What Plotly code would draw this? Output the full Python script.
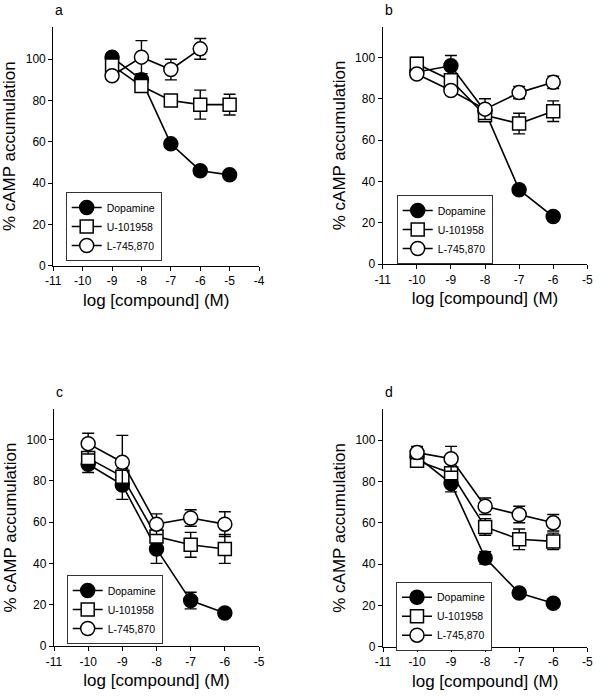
import plotly.graph_objects as go

# ---- data ----
series_names = ["Dopamine", "U-101958", "L-745,870"]

x_a = [-9, -8, -7, -6, -5]
x_a_l = [-9, -8, -7, -6]
dop_a = [101, 90, 59, 46, 44]
dop_a_err = [2, 3, 2, 2, 1]
u_a = [97, 87, 80, 78, 78]
u_a_err = [2, 3, 2, 7, 5]
l_a = [92, 101, 95, 105]
l_a_err = [2, 8, 5, 5]

x_b = [-10, -9, -8, -7, -6]
dop_b = [93, 96, 74, 36, 23]
dop_b_err = [2, 5, 3, 2, 2]
u_b = [97, 89, 72, 68, 74]
u_b_err = [3, 3, 2, 5, 5]
l_b = [92, 84, 75, 83, 88]
l_b_err = [2, 2, 5, 3, 3]

x_c = [-10, -9, -8, -7, -6]
dop_c = [88, 78, 47, 22, 16]
dop_c_err = [4, 7, 7, 4, 2]
u_c = [91, 82, 53, 49, 47]
u_c_err = [3, 4, 3, 6, 7]
l_c = [98, 89, 59, 62, 59]
l_c_err = [5, 13, 5, 4, 6]

x_d = [-10, -9, -8, -7, -6]
dop_d = [92, 79, 43, 26, 21]
dop_d_err = [2, 4, 3, 2, 2]
u_d = [90, 84, 58, 52, 51]
u_d_err = [2, 3, 4, 5, 4]
l_d = [94, 91, 68, 64, 60]
l_d_err = [3, 6, 4, 4, 4]

x_ticks_a = [-11, -10, -9, -8, -7, -6, -5, -4]
x_ticks_bcd = [-11, -10, -9, -8, -7, -6, -5]
y_ticks = [0, 20, 40, 60, 80, 100]
panel_labels = ["a", "b", "c", "d"]

FONT = "Liberation Sans, Arial, sans-serif"

panels = [
    dict(xs=[x_a, x_a, x_a_l], ys=[dop_a, u_a, l_a], es=[dop_a_err, u_a_err, l_a_err],
         xt=x_ticks_a, xd=[53.3, 259.0], yb=265.7, yt=26.7),
    dict(xs=[x_b] * 3, ys=[dop_b, u_b, l_b], es=[dop_b_err, u_b_err, l_b_err],
         xt=x_ticks_bcd, xd=[382.7, 587.3], yb=264.0, yt=26.7),
    dict(xs=[x_c] * 3, ys=[dop_c, u_c, l_c], es=[dop_c_err, u_c_err, l_c_err],
         xt=x_ticks_bcd, xd=[54.0, 259.0], yb=646.0, yt=409.0),
    dict(xs=[x_d] * 3, ys=[dop_d, u_d, l_d], es=[dop_d_err, u_d_err, l_d_err],
         xt=x_ticks_bcd, xd=[383.0, 587.3], yb=646.7, yt=409.0),
]
legend_pos = [(65.7, 192.0), (396.7, 195.0), (66.7, 575.0), (396.0, 581.7)]

W, H = 601, 696
styles = [
    dict(symbol="circle", color="black", size=14),
    dict(symbol="square", color="white", size=13),
    dict(symbol="circle", color="white", size=14),
]

fig = go.Figure()
layout = dict(
    width=W, height=H, margin=dict(l=0, r=0, t=0, b=0, autoexpand=False),
    paper_bgcolor="white", plot_bgcolor="white",
    font=dict(family=FONT, color="black"),
    annotations=[],
)

px_per_unit = 2.065
for i, p in enumerate(panels):
    n = "" if i == 0 else str(i + 1)
    xa, ya = "x" + n, "y" + n
    lg = "legend" if i == 0 else "legend" + str(i + 1)
    for k in range(3):
        st = styles[k]
        fig.add_trace(go.Scatter(
            x=p["xs"][k], y=p["ys"][k], name=series_names[k],
            xaxis=xa, yaxis=ya, legend=lg, mode="lines+markers",
            line=dict(color="black", width=1.6),
            marker=dict(symbol=st["symbol"], size=st["size"], color=st["color"],
                        line=dict(color="black", width=1.5)),
            error_y=dict(type="data", array=p["es"][k], color="black",
                         thickness=1.4, width=6),
        ))
    ytop = (p["yb"] - p["yt"]) / px_per_unit
    layout["xaxis" + n] = dict(
        domain=[p["xd"][0] / W, p["xd"][1] / W], anchor=ya, automargin=False,
        range=[p["xt"][0], p["xt"][-1]], tickvals=p["xt"],
        ticktext=[str(v) for v in p["xt"]],
        showline=True, linecolor="black", linewidth=1.3, ticks="outside",
        ticklen=4, tickwidth=1.3, tickcolor="black", showgrid=False, zeroline=False,
        tickfont=dict(size=12, family=FONT),
        title=dict(text="log [compound] (M)", font=dict(size=17, family=FONT), standoff=6),
    )
    layout["yaxis" + n] = dict(
        domain=[1 - p["yb"] / H, 1 - p["yt"] / H], anchor=xa, automargin=False,
        range=[0, ytop], tickvals=y_ticks, ticktext=[str(v) for v in y_ticks],
        showline=True, linecolor="black", linewidth=1.3, ticks="outside",
        ticklen=4, tickwidth=1.3, tickcolor="black", showgrid=False, zeroline=False,
        tickfont=dict(size=12, family=FONT),
        title=dict(text="% cAMP accumulation", font=dict(size=17, family=FONT), standoff=5),
    )
    lx, ly = legend_pos[i]
    layout[lg] = dict(
        x=lx / W, y=1 - ly / H, xanchor="left", yanchor="top",
        bordercolor="#333333", borderwidth=1, bgcolor="white",
        font=dict(size=10.5, family=FONT), itemwidth=30, tracegroupgap=0,
    )
    layout["annotations"].append(dict(
        text=panel_labels[i], xref="paper", yref="paper",
        x=p["xd"][0] / W, y=1 - (p["yt"] - 17) / H, xanchor="left", yanchor="middle",
        showarrow=False, font=dict(size=14, family=FONT),
    ))

fig.update_layout(**layout)
fig.write_html("out.html", config={"displayModeBar": False},
               post_script="document.body.style.margin='0';")
